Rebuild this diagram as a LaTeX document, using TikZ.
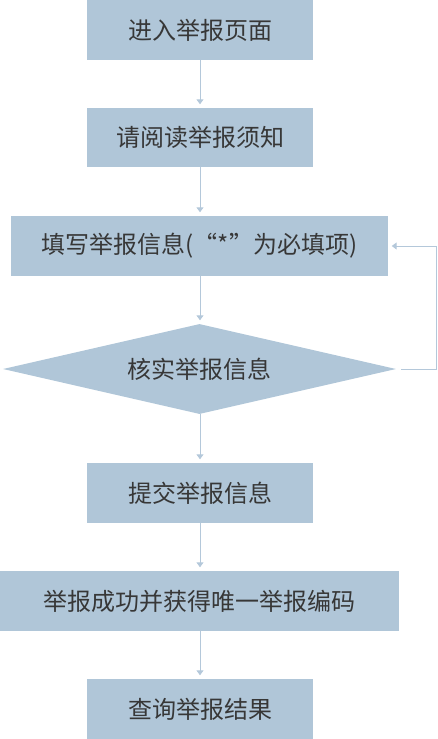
\documentclass[tikz,border=0pt]{standalone}
\usepackage{fontspec}
\newfontfamily\cjk{Noto Sans CJK SC}
\usetikzlibrary{shapes.geometric,arrows.meta}
\definecolor{boxfill}{RGB}{176,198,216}
\definecolor{linecol}{RGB}{180,200,218}
\definecolor{txt}{RGB}{55,55,55}
\begin{document}
\begin{tikzpicture}[x=1pt,y=-1pt,
  stepbox/.style={rectangle,fill=boxfill,draw=none,inner sep=0pt,minimum height=60pt,
    text=txt,font=\cjk\fontsize{24}{24}\selectfont},
  decide/.style={diamond,fill=boxfill,draw=none,inner sep=0pt,aspect=4.37,
    minimum width=393pt,minimum height=90pt,text=txt,font=\cjk\fontsize{24}{24}\selectfont},
  conn/.style={draw=linecol,line width=1pt,-{Triangle[width=7pt,length=5pt]},shorten >=3.5pt}]
\useasboundingbox (0,0) rectangle (437,739);
\node[stepbox,minimum width=226pt] (b1) at (200,30) {进入举报页面};
\node[stepbox,minimum width=226pt,minimum height=59pt] (b2) at (200,137.5) {请阅读举报须知};
\node[stepbox,minimum width=377pt] (b3) at (199.5,246) {填写举报信息(“*”为必填项)};
\node[decide] (d) at (199.5,369) {核实举报信息};
\node[stepbox,minimum width=226pt] (b4) at (200,493) {提交举报信息};
\node[stepbox,minimum width=399pt] (b5) at (199.5,601) {举报成功并获得唯一举报编码};
\node[stepbox,minimum width=226pt] (b6) at (200,709) {查询举报结果};
\draw[conn] (b1.south) -- (b2.north);
\draw[conn] (b2.south) -- (b3.north -| b2.south);
\draw[conn] (b3.south -| b2.south) -- (d.north -| b2.south);
\draw[conn] (d.south -| b2.south) -- (b4.north);
\draw[conn] (b4.south) -- (b5.north -| b4.south);
\draw[conn] (b5.south -| b4.south) -- (b6.north);
\coordinate (fb) at (436,0);
\draw[conn,shorten <=5pt] (d.east) -- (d.east -| fb) -- (b3.east -| fb) -- (b3.east);
\end{tikzpicture}
\end{document}
